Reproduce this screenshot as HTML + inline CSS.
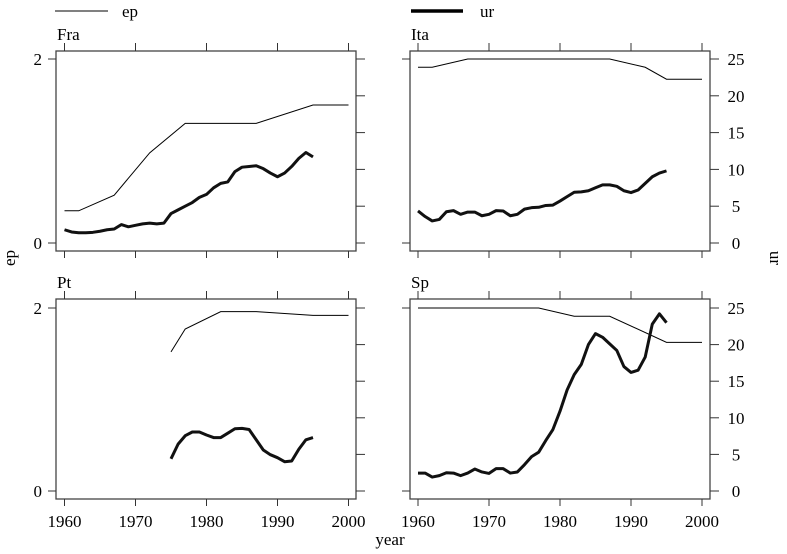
<!DOCTYPE html>
<html><head><meta charset="utf-8"><style>
html,body{margin:0;padding:0;background:#fff;}
svg{display:block;font-family:"Liberation Serif",serif;}
</style></head><body>
<svg id="chart" width="787" height="554" viewBox="0 0 787 554" xmlns="http://www.w3.org/2000/svg">
<g>
<line x1="55" y1="11" x2="108" y2="11" stroke="#000" stroke-width="1"/>
<text x="122" y="17" font-size="17">ep</text>
<line x1="411" y1="11" x2="463" y2="11" stroke="#000" stroke-width="3.5"/>
<text x="480" y="17" font-size="17">ur</text>
</g>
<text x="15" y="258" font-size="17" transform="rotate(-90 15 258)" text-anchor="middle">ep</text>
<text x="770" y="258" font-size="17" transform="rotate(90 770 258)" text-anchor="middle">ur</text>
<text x="390" y="545" font-size="17" text-anchor="middle">year</text>
<g id="panels"></g>
</svg>
<script>
const years = [1960,1961,1962,1963,1964,1965,1966,1967,1968,1969,1970,1971,1972,1973,1974,1975,1976,1977,1978,1979,1980,1981,1982,1983,1984,1985,1986,1987,1988,1989,1990,1991,1992,1993,1994,1995];
const panelNames = ["Fra","Ita","Pt","Sp"];
const fraEpYears = [1960,1962,1967,1972,1977,1987,1995,2000];
const fraEp = [0.35,0.35,0.52,0.98,1.3,1.3,1.5,1.5];
const itaEpYears = [1960,1962,1967,1987,1992,1995,2000];
const itaEp = [1.91,1.91,2.0,2.0,1.91,1.78,1.78];
const ptEpYears = [1975,1977,1982,1987,1995,2000];
const ptEp = [1.52,1.77,1.96,1.96,1.92,1.92];
const spEpYears = [1960,1977,1982,1987,1995,2000];
const spEp = [2.0,2.0,1.91,1.91,1.625,1.625];
const fraUr = [1.8,1.5,1.4,1.4,1.45,1.6,1.8,1.9,2.5,2.2,2.4,2.6,2.7,2.6,2.7,4.0,4.5,5.0,5.5,6.2,6.6,7.5,8.1,8.3,9.7,10.3,10.4,10.5,10.1,9.5,9.0,9.5,10.4,11.5,12.3,11.7];
const itaUr = [4.35,3.6,3.0,3.2,4.25,4.4,3.9,4.2,4.2,3.7,3.9,4.4,4.35,3.7,3.9,4.6,4.8,4.85,5.1,5.15,5.7,6.3,6.9,6.95,7.1,7.5,7.9,7.9,7.7,7.1,6.85,7.2,8.1,9.0,9.5,9.8];
const ptUrYears = [1975,1976,1977,1978,1979,1980,1981,1982,1983,1984,1985,1986,1987,1988,1989,1990,1991,1992,1993,1994,1995];
const ptUr = [4.4,6.4,7.55,8.06,8.06,7.65,7.3,7.3,7.9,8.5,8.55,8.4,7.0,5.6,4.96,4.55,4.0,4.1,5.7,7.0,7.3];
const spUr = [2.45,2.45,1.9,2.1,2.5,2.45,2.1,2.45,3.0,2.6,2.4,3.05,3.05,2.45,2.6,3.6,4.7,5.3,6.9,8.4,10.9,13.8,15.9,17.3,20.0,21.5,21.0,20.1,19.2,17.0,16.2,16.5,18.3,22.8,24.2,23.0];
const xTicks = [1960,1970,1980,1990,2000];
const epTicks = [0,2];
const urTicks = [0,5,10,15,20,25];

const NS="http://www.w3.org/2000/svg";
const g=document.getElementById('panels');
function mk(tag,attrs,parent){const e=document.createElementNS(NS,tag);for(const k in attrs)e.setAttribute(k,attrs[k]);(parent||g).appendChild(e);return e;}
const layouts=[
 {x0:56,x1:356,y0:51,y1:251,xa:64.5,ya:243,ya2:59,col:0,row:0},
 {x0:410,x1:710,y0:51,y1:251,xa:418,ya:243,ya2:59,col:1,row:0},
 {x0:56,x1:356,y0:299,y1:499,xa:64.5,ya:491,ya2:308,col:0,row:1},
 {x0:410,x1:710,y0:299,y1:499,xa:418,ya:491,ya2:308,col:1,row:1}];
const epSets=[[fraEpYears,fraEp],[itaEpYears,itaEp],[ptEpYears,ptEp],[spEpYears,spEp]];
const urSets=[[years,fraUr],[years,itaUr],[ptUrYears,ptUr],[years,spUr]];
layouts.forEach((L,i)=>{
  const pg=mk('g',{});
  
  
  const xs=v=>L.xa+(v-1960)*(284/40);
  const ye=v=>L.ya-(L.ya-L.ya2)*v/2;
  const yu=v=>L.ya-(L.ya-L.ya2)*v/25;
  const strip=mk('text',{x:L.x0+1,y:L.y0-11,'font-size':17},pg);strip.textContent=panelNames[i];
  
  
  const box=mk('rect',{x:L.x0,y:L.y0,width:L.x1-L.x0,height:L.y1-L.y0,fill:'none',stroke:'#444','stroke-width':1.3},pg);
  
  
  xTicks.forEach(t=>{
    mk('line',{x1:xs(t),x2:xs(t),y1:L.y0,y2:L.y0-8,stroke:'#333'},pg);
    mk('line',{x1:xs(t),x2:xs(t),y1:L.y1,y2:L.y1+7,stroke:'#333'},pg);
    if(L.row===1){const tx=mk('text',{x:xs(t),y:L.y1+28,'font-size':17,'text-anchor':'middle'},pg);tx.textContent=t;
      
      }
  });
  epTicks.forEach(t=>{
    mk('line',{x1:L.x0,x2:L.x0-8,y1:ye(t),y2:ye(t),stroke:'#333'},pg);
    if(L.col===0){const tx=mk('text',{x:L.x0-14,y:ye(t)+6,'font-size':17,'text-anchor':'end'},pg);tx.textContent=t;
      
      }
  });
  urTicks.forEach(t=>{
    mk('line',{x1:L.x1,x2:L.x1+9,y1:yu(t),y2:yu(t),stroke:'#333'},pg);
    if(L.col===1){const tx=mk('text',{x:L.x1+26,y:yu(t)+6,'font-size':17,'text-anchor':'middle'},pg);tx.textContent=t;
      
      }
  });
  const [ey,ev]=epSets[i];
  const ep=mk('polyline',{points:ey.map((y,k)=>xs(y)+','+ye(ev[k])).join(' '),fill:'none',stroke:'#000','stroke-width':1},pg);
  
  
  const [uy,uv]=urSets[i];
  const ur=mk('polyline',{points:uy.map((y,k)=>xs(y)+','+yu(uv[k])).join(' '),fill:'none',stroke:'#111','stroke-width':3,'stroke-linejoin':'round'},pg);
  
  
});
</script>
</body></html>
